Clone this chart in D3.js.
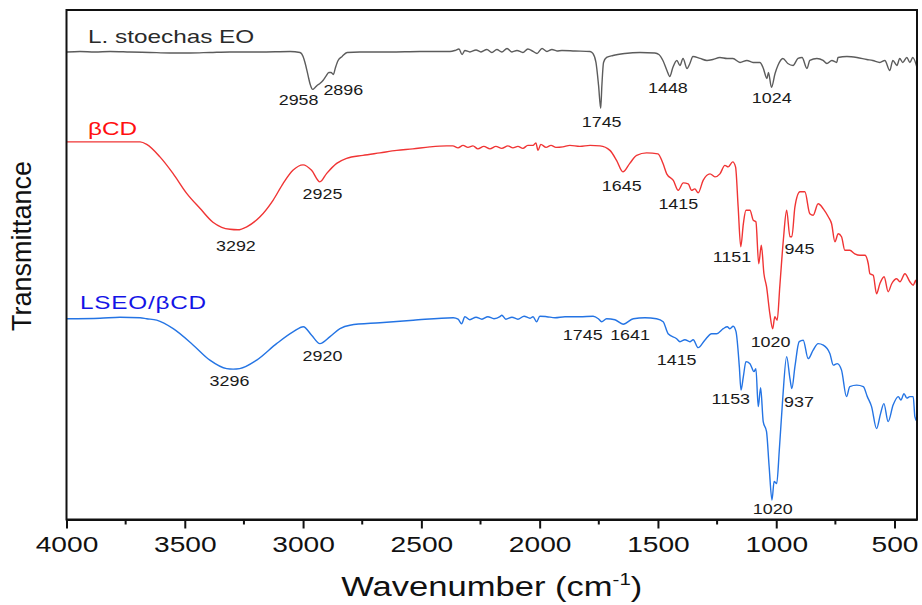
<!DOCTYPE html>
<html>
<head>
<meta charset="utf-8">
<script src="https://cdn.jsdelivr.net/npm/d3@7"></script>
<style>
  body { margin: 0; background: #fff; }
  text { font-family: "Liberation Sans", Arial, sans-serif; }
</style>
</head>
<body>
<div id="chart"></div>
<script>
// spectra: [wavenumber (cm-1), transmittance (a.u., offset)]
var eoSpectrum = [
  [3998,93.6],[3943,93.7],[3880,93.6],[3816,93.7],[3732,93.6],[3647,93.5],[3563,93.4],[3478,93.4],
  [3393,93.5],[3309,93.6],[3182,93.6],[3055,93.7],[3013,93.5],[3000,92.7],[2992,91.5],[2979,88.9],
  [2971,87.3],[2959,86.1],[2949,86.5],[2941,86.9],[2929,87.3],[2916,87.9],[2904,88.7],[2891,89.5],
  [2882,89.5],[2872,89.1],[2863,90.5],[2852,91.9],[2835,92.7],[2814,93.5],[2760,93.6],[2633,93.6],
  [2506,93.7],[2379,93.7],[2358,93.9],[2341,94.2],[2328,93.1],[2316,93.9],[2295,93.6],[2269,94.0],
  [2248,93.6],[2223,94.1],[2202,93.5],[2181,94.1],[2160,93.6],[2138,94.3],[2117,93.6],[2096,93.9],
  [2071,93.5],[2050,94.2],[2028,93.7],[2011,93.3],[1990,94.3],[1969,93.7],[1948,94.1],[1927,93.8],
  [1906,93.9],[1851,93.8],[1787,93.7],[1775,93.3],[1762,91.5],[1751,86.9],[1742,82.3],[1737,86.9],
  [1730,91.5],[1717,92.5],[1690,92.9],[1640,93.3],[1576,93.5],[1513,93.4],[1496,93.1],[1479,91.9],
  [1462,89.9],[1450,88.7],[1437,90.5],[1420,91.9],[1407,90.9],[1394,92.3],[1377,90.3],[1365,91.3],
  [1352,92.7],[1322,92.3],[1293,91.9],[1268,92.1],[1238,92.5],[1208,92.3],[1183,92.3],[1153,91.5],
  [1124,91.9],[1098,91.5],[1069,91.5],[1056,90.5],[1039,88.3],[1033,89.5],[1020,86.5],[1005,89.3],
  [993,90.9],[972,92.3],[951,91.3],[929,90.9],[908,92.3],[891,92.5],[870,90.3],[858,91.9],
  [828,92.3],[802,91.9],[786,91.3],[765,91.9],[744,91.5],[739,92.5],[701,92.7],[659,92.5],
  [617,92.1],[592,91.9],[562,91.5],[541,91.9],[520,89.9],[507,91.9],[490,90.9],[478,92.3],
  [465,91.5],[448,92.5],[435,91.5],[423,92.5],[405,90.5]
];

var bcdSpectrum = [
  [3998,75.6],[3858,75.6],[3689,75.6],[3661,75.1],[3605,72.6],[3550,69.3],[3492,65.3],[3436,62.3],
  [3381,59.5],[3344,58.5],[3309,58.1],[3276,58.0],[3238,58.6],[3182,60.6],[3127,63.9],[3084,67.3],
  [3043,69.9],[3000,71.0],[2964,69.9],[2929,67.6],[2900,69.3],[2858,71.3],[2816,72.3],[2747,72.9],
  [2675,73.4],[2604,73.9],[2536,74.2],[2464,74.6],[2393,74.8],[2367,74.8],[2345,74.4],[2324,74.9],
  [2303,74.5],[2282,74.8],[2261,74.2],[2236,74.7],[2210,74.2],[2185,74.7],[2160,74.3],[2134,74.8],
  [2113,74.4],[2092,74.7],[2071,74.3],[2050,74.9],[2028,74.9],[2016,75.4],[2007,73.9],[1995,75.1],
  [1973,74.5],[1952,74.9],[1931,74.5],[1902,74.6],[1872,74.9],[1830,74.7],[1787,74.9],[1745,74.8],
  [1703,73.9],[1675,71.9],[1648,69.6],[1619,71.3],[1590,72.9],[1548,73.4],[1500,73.2],[1479,71.3],
  [1463,69.2],[1435,67.9],[1414,65.9],[1393,67.4],[1372,67.2],[1358,65.9],[1344,66.2],[1330,65.4],
  [1309,67.9],[1280,69.2],[1259,68.6],[1238,69.2],[1217,70.9],[1203,70.6],[1184,71.6],[1172,70.6],
  [1161,62.6],[1150,54.6],[1139,59.2],[1128,61.9],[1111,61.9],[1097,59.9],[1086,59.6],[1074,51.2],
  [1063,54.9],[1052,49.2],[1041,46.6],[1027,41.2],[1015,38.2],[1006,40.6],[996,39.9],[985,46.6],
  [970,55.9],[956,61.9],[942,56.6],[934,56.6],[921,62.6],[900,65.6],[879,65.6],[858,61.2],
  [844,60.9],[823,63.2],[801,62.2],[780,60.6],[766,59.2],[752,55.6],[738,57.2],[724,56.6],
  [710,53.9],[689,53.9],[668,53.2],[646,52.9],[625,52.9],[611,51.2],[604,49.2],[590,48.9],
  [576,45.2],[562,47.2],[544,48.6],[527,45.6],[512,47.2],[491,48.2],[477,47.6],[456,49.2],
  [435,47.6],[421,46.9],[410,47.9],[405,46.3]
];

var complexSpectrum = [
  [3998,40.2],[3858,40.3],[3774,40.5],[3689,40.4],[3661,40.2],[3619,39.9],[3549,38.2],[3464,34.9],
  [3394,31.9],[3323,30.2],[3296,30.1],[3268,30.2],[3196,31.9],[3112,35.2],[3041,37.6],[2999,38.6],
  [2964,36.9],[2929,35.2],[2886,36.6],[2844,38.2],[2802,38.9],[2675,39.4],[2534,39.9],[2365,40.4],
  [2345,40.1],[2330,39.2],[2316,40.6],[2295,40.0],[2269,40.5],[2244,40.1],[2219,40.6],[2193,40.2],
  [2168,40.6],[2160,40.9],[2143,40.1],[2117,40.5],[2092,40.1],[2066,40.7],[2041,40.3],[2028,40.6],
  [2013,39.6],[1999,40.7],[1970,40.6],[1935,40.4],[1893,40.6],[1830,40.6],[1774,40.7],[1752,40.2],
  [1738,39.6],[1717,40.2],[1682,40.0],[1647,39.1],[1604,40.2],[1555,40.4],[1506,40.2],[1478,39.6],
  [1457,37.2],[1421,36.2],[1407,35.6],[1386,36.0],[1365,35.6],[1351,36.0],[1330,34.4],[1302,35.9],
  [1273,37.2],[1252,37.2],[1224,38.2],[1207,38.6],[1196,38.2],[1182,38.7],[1170,37.6],[1156,30.6],
  [1149,25.9],[1139,28.6],[1128,31.6],[1111,31.2],[1094,29.6],[1086,30.2],[1076,22.6],[1066,26.4],
  [1055,19.6],[1041,17.6],[1030,10.6],[1018,3.9],[1009,7.6],[998,7.2],[987,13.9],[973,23.9],
  [956,32.6],[942,28.2],[934,26.2],[921,30.6],[903,35.6],[886,35.9],[865,32.2],[844,33.9],
  [823,35.2],[801,34.9],[773,33.2],[759,30.9],[742,31.2],[724,29.9],[703,24.6],[689,26.6],
  [660,26.9],[632,26.6],[615,24.6],[597,22.6],[576,18.2],[559,21.2],[545,23.2],[527,19.6],
  [506,22.9],[484,24.6],[473,23.9],[460,25.2],[448,24.3],[435,24.6],[421,24.6],[414,20.6],
  [405,19.6]
];

// peak labels: [text, wavenumber at label centre, baseline level]
var eoPeaks = [["2958",3019,82.9],["2896",2830,84.9],["1745",1738,78.6],["1448",1458,85.4],["1024",1019,83.4]];
var bcdPeaks = [["3292",3284,53.8],["2925",2918,64.2],["1645",1653,65.8],["1415",1414,62.2],
                ["1151",1187,51.6],["945",902,53.1],["1020",1024,34.6]];
var complexPeaks = [["3296",3311,26.8],["2920",2918,31.7],["1745",1818,36.0],["1641",1618,36.0],
                    ["1415",1421,31.0],["1153",1192,23.1],["937",904,22.6],["1020",1015,1.1]];

// series names: [text, wavenumber at left edge, baseline level]
var seriesNames = [["L. stoechas EO",3909,95.3],["βCD",3909,76.9],["LSEO/βCD",3943,42.2]];

var xTicks = [4000, 3500, 3000, 2500, 2000, 1500, 1000, 500];
var xMinorTicks = [3750, 3250, 2750, 2250, 1750, 1250, 750];

var width = 922, height = 605;
var margin = {left: 66.5, right: 5, top: 10, bottom: 85.5};
var stretch = 1.28; // horizontal text in the source is widened

var svg = d3.select("#chart").append("svg")
    .attr("width", width)
    .attr("height", height);

var x = d3.scaleLinear().domain([4000, 405]).range([margin.left, width - margin.right]);
var y = d3.scaleLinear().domain([0, 102]).range([height - margin.bottom, margin.top]);

var line = d3.line()
    .x(function(d) { return x(d[0]); })
    .y(function(d) { return y(d[1]); })
    .curve(d3.curveMonotoneX);

var series = [
  {data: eoSpectrum, color: "#5c5c5c", peaks: eoPeaks},
  {data: bcdSpectrum, color: "#f03434", peaks: bcdPeaks},
  {data: complexSpectrum, color: "#2474e4", peaks: complexPeaks}
];

series.forEach(function(s) {
  svg.append("path")
      .attr("d", line(s.data))
      .attr("fill", "none")
      .attr("stroke", s.color)
      .attr("stroke-width", 1.4)
      .attr("stroke-linejoin", "round");

  svg.selectAll(null)
      .data(s.peaks)
      .enter().append("text")
      .attr("transform", function(d) { return "translate(" + x(d[1]) + "," + y(d[2]) + ") scale(" + stretch + ",1)"; })
      .attr("text-anchor", "middle")
      .attr("font-size", 14)
      .attr("fill", "#1a1a1a")
      .text(function(d) { return d[0]; });
});

var nameColors = ["#2a2a2a", "#ff1010", "#1414e6"];
svg.selectAll(".name")
    .data(seriesNames)
    .enter().append("text")
    .attr("class", "name")
    .attr("transform", function(d) { return "translate(" + x(d[1]) + "," + y(d[2]) + ") scale(" + stretch + ",1)"; })
    .attr("font-size", 19)
    .attr("letter-spacing", function(d, i) { return i == 2 ? 0.6 : 0; })
    .attr("fill", function(d, i) { return nameColors[i]; })
    .text(function(d) { return d[0]; });

// frame
svg.append("rect")
    .attr("x", margin.left)
    .attr("y", margin.top)
    .attr("width", width - margin.right - margin.left)
    .attr("height", height - margin.bottom - margin.top)
    .attr("fill", "none")
    .attr("stroke", "#111")
    .attr("stroke-width", 2);

// bottom axis
var axis = svg.append("g")
    .attr("transform", "translate(0," + (height - margin.bottom) + ")")
    .call(d3.axisBottom(x).tickValues(xTicks).tickFormat(d3.format("d")).tickSize(9).tickSizeOuter(0).tickPadding(8));
axis.select(".domain").attr("stroke", "#111").attr("stroke-width", 2);
axis.selectAll(".tick line").attr("stroke", "#111").attr("stroke-width", 2);
axis.selectAll(".tick text")
    .attr("font-size", 22)
    .attr("font-family", "Liberation Sans, Arial, sans-serif")
    .attr("fill", "#111")
    .attr("transform", "scale(" + stretch + ",1)");

svg.append("g")
    .selectAll("line")
    .data(xMinorTicks)
    .enter().append("line")
    .attr("x1", function(d) { return x(d); })
    .attr("x2", function(d) { return x(d); })
    .attr("y1", height - margin.bottom)
    .attr("y2", height - margin.bottom + 5)
    .attr("stroke", "#111")
    .attr("stroke-width", 2);

// axis titles
var xTitle = svg.append("text")
    .attr("transform", "translate(" + ((margin.left + width - margin.right) / 2) + ",596) scale(" + stretch + ",1)")
    .attr("text-anchor", "middle")
    .attr("font-size", 27)
    .attr("fill", "#111");
xTitle.append("tspan").text("Wavenumber (cm");
xTitle.append("tspan").attr("font-size", 16).attr("dy", -11).text("-1");
xTitle.append("tspan").attr("dy", 11).text(")");

svg.append("text")
    .attr("transform", "translate(31,246) rotate(-90)")
    .attr("text-anchor", "middle")
    .attr("font-size", 27)
    .attr("fill", "#111")
    .text("Transmittance");
</script>
</body>
</html>
